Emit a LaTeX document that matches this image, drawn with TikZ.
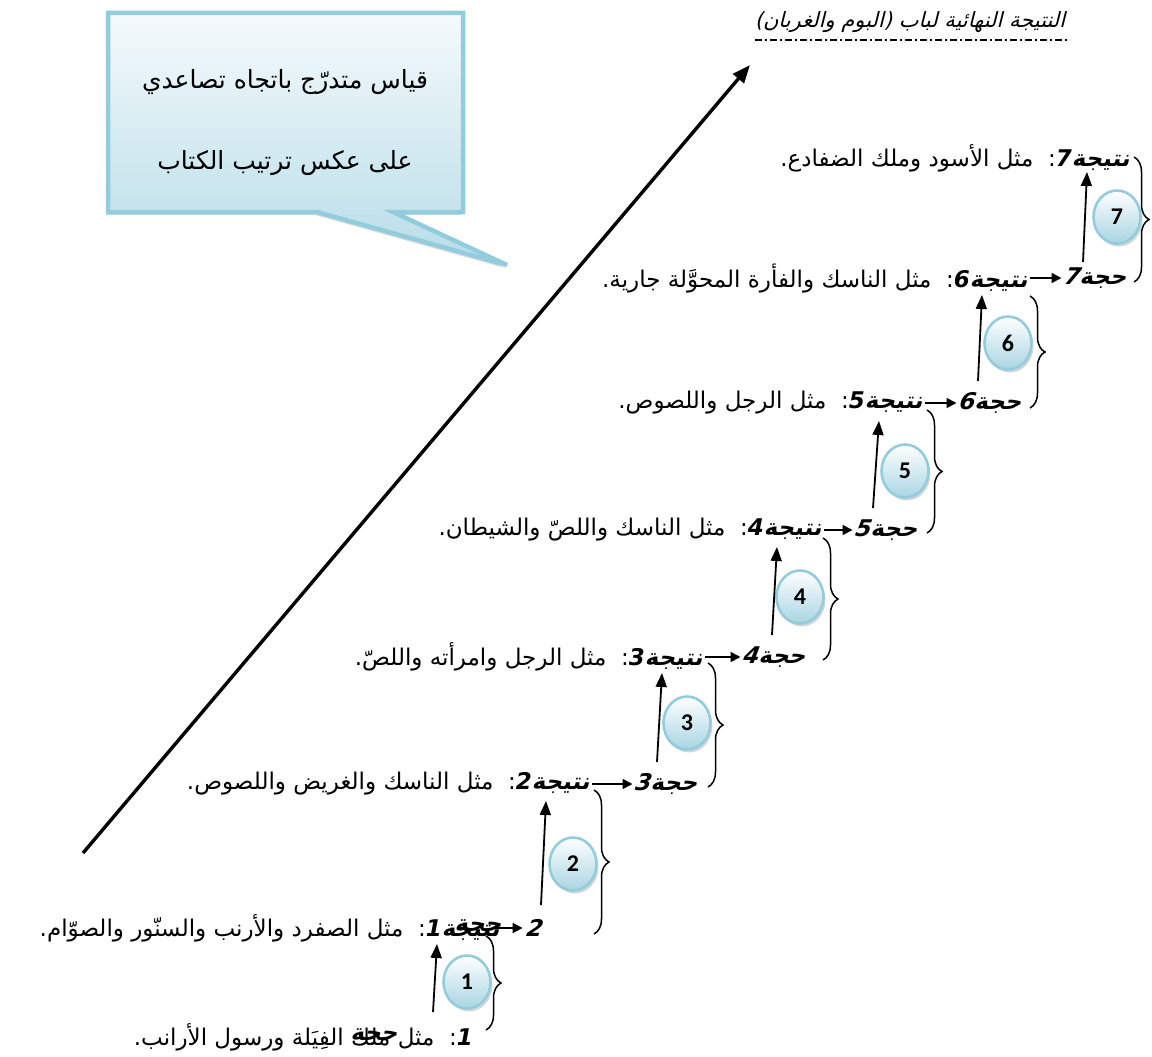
\documentclass[tikz,border=0pt]{standalone}
\usepackage{fontspec}
\usetikzlibrary{arrows.meta,shadows,decorations.pathreplacing,shapes.geometric}
\TeXXeTstate=1
\newfontfamily\arabicfont[Script=Arabic]{DejaVu Sans}
\newfontfamily\arabicslant[Script=Arabic,FakeSlant=0.25]{DejaVu Sans}
\newfontfamily\lblfont[Script=Arabic,FakeSlant=0.18]{DejaVu Sans}
\newfontfamily\carlito{Carlito}
\definecolor{rim}{HTML}{93CDDD}
\definecolor{ballblue}{HTML}{A9D5E3}
\definecolor{boxtop}{HTML}{F5FAFC}
\definecolor{boxbot}{HTML}{B7DDE8}
\newcommand\mydig[1]{{\bfseries\itshape #1}}
\newcommand\mylbl[1]{{\lblfont\bfseries #1}}
\begin{document}
\begin{tikzpicture}[x=1pt,y=-1pt,
  body/.style={anchor=east,inner sep=0pt,font=\arabicfont\fontsize{23}{26}\selectfont},
  lbl/.style={anchor=east,inner sep=0pt,font=\lblfont\bfseries\fontsize{23}{26}\selectfont},
  callt/.style={inner sep=0pt,font=\arabicfont\fontsize{25}{28}\selectfont},
  ttl/.style={inner sep=0pt,font=\arabicslant\fontsize{21}{24}\selectfont},
  ball/.style={ellipse,minimum width=47pt,minimum height=53pt,inner sep=0pt,draw=rim,line width=2.6pt,
    top color=white,bottom color=ballblue,
    drop shadow={shadow xshift=2pt,shadow yshift=-3pt,fill=gray!65},
    font=\carlito\bfseries\fontsize{24}{24}\selectfont},
  harrow/.style={-{Triangle[length=10pt,width=10pt]},line width=1.8pt},
  uparrow/.style={-{Triangle[length=14pt,width=11pt]},line width=1.8pt},
  bigarrow/.style={-{Triangle[length=18pt,width=14pt]},line width=3.4pt},
  rbrace/.style={decorate,decoration={brace,amplitude=15pt},line width=1.5pt},
]
\useasboundingbox (0,0) rectangle (1152,1057);

% callout
\draw[line width=4.5pt,draw=rim,top color=boxtop,bottom color=boxbot,
  drop shadow={shadow xshift=-2pt,shadow yshift=-3pt,fill=gray!60}]
  (108,13) -- (463,13) -- (463,212) -- (393,212) -- (507,265) -- (317,212) -- (108,212) -- cycle;
\node[callt] (q1) at (285,82) {\beginR قياس متدرّج باتجاه تصاعدي\endR};
\node[callt] (q2) at (285,163) {\beginR على عكس ترتيب الكتاب\endR};

% title
\node[ttl] (title) at (910,22) {\beginR النتيجة النهائية لباب (البوم والغربان)\endR};
\coordinate (ul1) at (755,40);
\coordinate (ul2) at (1070,40);
\draw[dash pattern=on 7pt off 3pt on 2pt off 3pt,line width=1.5pt] (ul1) -- (ul2);

% big diagonal arrow
\coordinate (dstart) at (83,853);
\coordinate (dend) at (750,65);
\draw[bigarrow] (dstart) -- (dend);

% rows
\node[body] (t7) at (1130,158) {\beginR\mylbl{نتيجة}\mydig{7}:\ \ مثل الأسود وملك الضفادع.\endR};

\node[lbl] (h7) at (1127,278) {\beginR حجة\mydig{7}\endR};
\node[body] (t6) at (1028,278) {\beginR\mylbl{نتيجة}\mydig{6}:\ \ مثل الناسك والفأرة المحوَّلة جارية.\endR};

\node[lbl] (h6) at (1022,403) {\beginR حجة\mydig{6}\endR};
\node[body] (t5) at (923,403) {\beginR\mylbl{نتيجة}\mydig{5}:\ \ مثل الرجل واللصوص.\endR};

\node[lbl] (h5) at (918,530) {\beginR حجة\mydig{5}\endR};
\node[body] (t4) at (822,530) {\beginR\mylbl{نتيجة}\mydig{4}:\ \ مثل الناسك واللصّ والشيطان.\endR};

\node[lbl] (h4) at (806,657) {\beginR حجة\mydig{4}\endR};
\node[body] (t3) at (703,657) {\beginR\mylbl{نتيجة}\mydig{3}:\ \ مثل الرجل وامرأته واللصّ.\endR};

\node[lbl] (h3) at (698,784) {\beginR حجة\mydig{3}\endR};
\node[body] (t2) at (590,784) {\beginR\mylbl{نتيجة}\mydig{2}:\ \ مثل الناسك والغريض واللصوص.\endR};

\node[lbl] (h2) at (542,928) {\mydig{2}};
\node[body] (t1) at (500,928) {\beginR\mylbl{نتيجة}\mydig{1}:\ \ مثل الصفرد والأرنب والسنّور والصوّام.\endR};
\node[lbl] (h2w) at (502,928) {\beginR حجة\endR};

\node[body] (t0) at (473,1037) {\beginR\mydig{1}:\ \ مثل ملك الفِيَلة ورسول الأرانب.\endR};
\node[lbl] (h1w) at (398,1037) {\beginR حجة\endR};

% horizontal arrows
\draw[harrow] ([xshift=2pt]t6.east) -- ([xshift=-2pt]h7.west);
\draw[harrow] ([xshift=2pt]t5.east) -- ([xshift=-2pt]h6.west);
\draw[harrow] ([xshift=2pt]t4.east) -- ([xshift=-2pt]h5.west);
\draw[harrow] ([xshift=2pt]t3.east) -- ([xshift=-2pt]h4.west);
\draw[harrow] ([xshift=2pt]t2.east) -- ([xshift=-2pt]h3.west);
\draw[harrow] ([xshift=-8pt]t1.east) -- ([xshift=-3pt]h2.west);

% balls
\node[ball] (c7) at (1117,217) {7};
\node[ball] (c6) at (1008,343) {6};
\node[ball] (c5) at (905,471) {5};
\node[ball] (c4) at (800,597) {4};
\node[ball] (c3) at (687,723) {3};
\node[ball] (c2) at (573,864) {2};
\node[ball] (c1) at (467,982) {1};

% vertical arrows
\coordinate (a7s) at (1083,262); \coordinate (a7e) at (1087,172);
\coordinate (a6s) at (978,381);  \coordinate (a6e) at (982,295);
\coordinate (a5s) at (873,508);  \coordinate (a5e) at (879,421);
\coordinate (a4s) at (772,635);  \coordinate (a4e) at (777,547);
\coordinate (a3s) at (657,762);  \coordinate (a3e) at (662,673);
\coordinate (a2s) at (541,905);  \coordinate (a2e) at (546,801);
\coordinate (a1s) at (433,1012); \coordinate (a1e) at (437,944);
\draw[uparrow] (a7s) -- (a7e);
\draw[uparrow] (a6s) -- (a6e);
\draw[uparrow] (a5s) -- (a5e);
\draw[uparrow] (a4s) -- (a4e);
\draw[uparrow] (a3s) -- (a3e);
\draw[uparrow] (a2s) -- (a2e);
\draw[uparrow] (a1s) -- (a1e);

% braces
\coordinate (b7t) at (1134,157); \coordinate (b7b) at (1134,282);
\coordinate (b6t) at (1030,296); \coordinate (b6b) at (1030,408);
\coordinate (b5t) at (927,410);  \coordinate (b5b) at (927,533);
\coordinate (b4t) at (823,538);  \coordinate (b4b) at (823,660);
\coordinate (b3t) at (708,663);  \coordinate (b3b) at (708,787);
\coordinate (b2t) at (594,790);  \coordinate (b2b) at (594,934);
\coordinate (b1t) at (486,936);  \coordinate (b1b) at (486,1030);
\draw[rbrace] (b7t) -- (b7b);
\draw[rbrace] (b6t) -- (b6b);
\draw[rbrace] (b5t) -- (b5b);
\draw[rbrace] (b4t) -- (b4b);
\draw[rbrace] (b3t) -- (b3b);
\draw[rbrace] (b2t) -- (b2b);
\draw[rbrace] (b1t) -- (b1b);
\end{tikzpicture}
\end{document}
